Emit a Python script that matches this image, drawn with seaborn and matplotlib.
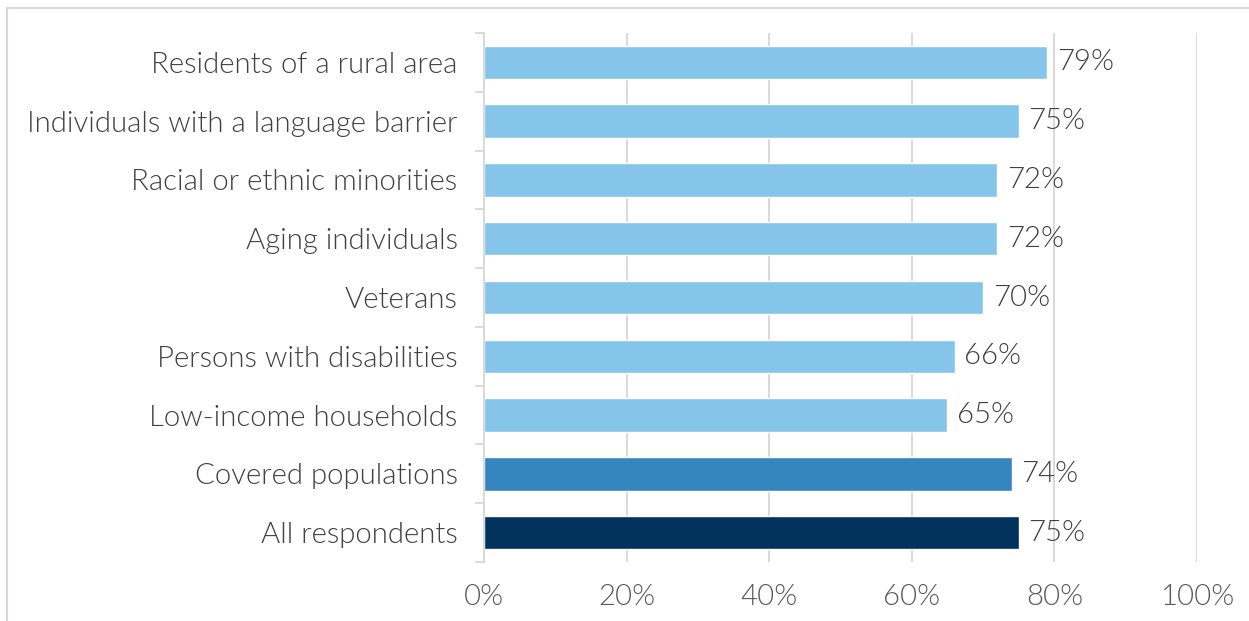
import matplotlib
matplotlib.use("Agg")
import matplotlib.pyplot as plt
from matplotlib.lines import Line2D
from matplotlib.ticker import FixedLocator, PercentFormatter
import seaborn as sns
import pandas as pd

categories = [
    "Residents of a rural area",
    "Individuals with a language barrier",
    "Racial or ethnic minorities",
    "Aging individuals",
    "Veterans",
    "Persons with disabilities",
    "Low-income households",
    "Covered populations",
    "All respondents",
]
values = [79, 75, 72, 72, 70, 66, 65, 74, 75]
groups = ["Subgroup"] * 7 + ["Covered", "All"]
x_ticks = [0, 20, 40, 60, 80, 100]

palette = {"Subgroup": "#85C5EA", "Covered": "#3586BE", "All": "#02335F"}

df = pd.DataFrame({"category": categories, "value": values, "group": groups})

sns.set_theme(style="white")
plt.rcParams["font.family"] = ["Lato", "DejaVu Sans"]

FS = 21.2
W = 300

fig = plt.figure(figsize=(12.49, 6.21), dpi=100)
ax = fig.add_axes([484 / 1249, 1 - 562 / 621, 713 / 1249, 529 / 621])

sns.barplot(data=df, y="category", x="value", hue="group", palette=palette,
            dodge=False, legend=False, width=0.57, ax=ax, orient="h",
            saturation=1)

ax.set_xlim(0, 100)
ax.set_ylim(len(categories) - 0.5, -0.5)
ax.set_xlabel("")
ax.set_ylabel("")
ax.xaxis.set_major_locator(FixedLocator(x_ticks))
ax.xaxis.set_major_formatter(PercentFormatter(decimals=0))

ax.grid(axis="x", color="#D9D9D9", linewidth=1.4)
ax.set_axisbelow(True)
for side in ["top", "right", "bottom"]:
    ax.spines[side].set_visible(False)
ax.spines["left"].set_color("#D9D9D9")
ax.spines["left"].set_linewidth(1.4)

ax.yaxis.set_minor_locator(FixedLocator([i - 0.5 for i in range(len(categories) + 1)]))
ax.tick_params(axis="y", which="major", length=0, pad=19, labelsize=FS,
               labelcolor="#404040")
ax.tick_params(axis="y", which="minor", length=6.5, width=1.4, color="#D9D9D9",
               direction="out", left=True)
ax.tick_params(axis="x", which="major", length=0, pad=16, labelsize=FS,
               labelcolor="#595959")
for lab in ax.get_yticklabels() + ax.get_xticklabels():
    lab.set_fontweight(W)

for container in ax.containers:
    ax.bar_label(container, fmt="%.0f%%", padding=7, fontsize=FS,
                 color="#404040", fontweight=W)

# light frame around the chart area
frame_kw = dict(color="#D9D9D9", linewidth=1.5, transform=fig.transFigure)
fig.add_artist(Line2D([6.5 / 1249, 1.01], [1 - 8 / 621, 1 - 8 / 621], **frame_kw))
fig.add_artist(Line2D([6.5 / 1249, 6.5 / 1249], [1 - 8 / 621, -0.01], **frame_kw))

fig.savefig("out.png", dpi=100, facecolor="white")
